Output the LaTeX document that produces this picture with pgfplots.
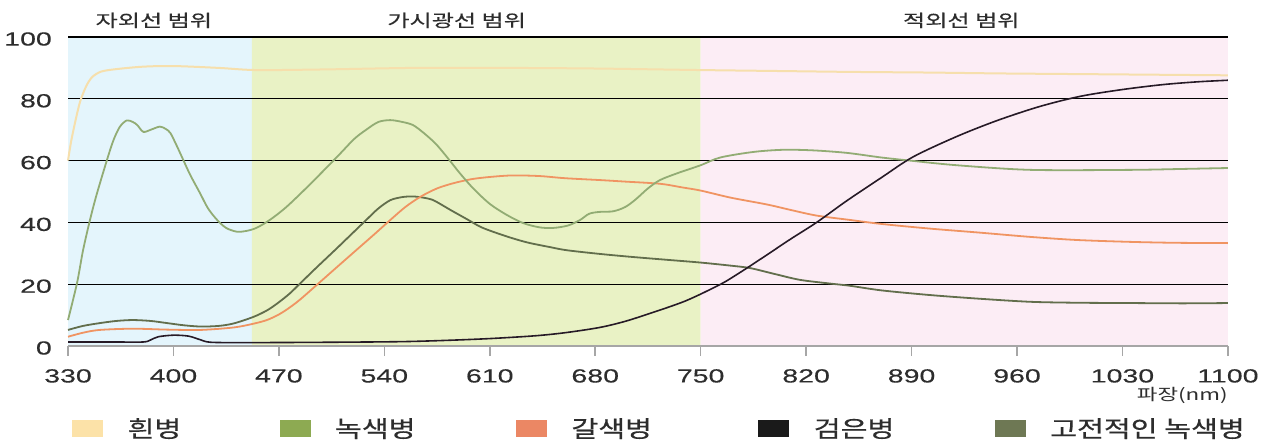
\documentclass[border=0pt]{standalone}
\usepackage{pgfplots}
\pgfplotsset{compat=1.18}
\usepackage{fontspec}
\setmainfont{Liberation Sans}
\newfontfamily\numfont[FakeStretch=1.5,FakeBold=0.3]{Liberation Sans}
\newfontfamily\krfont[FakeStretch=1.27,FakeBold=0.4]{Noto Sans CJK KR}
\newfontfamily\krtitle[FakeStretch=1.42,FakeBold=0.3]{Noto Sans CJK KR}
\newfontfamily\krunit[FakeStretch=1.4]{Noto Sans CJK KR}

% region backgrounds
\definecolor{uvbg}{RGB}{228,245,252}
\definecolor{visbg}{RGB}{233,242,197}
\definecolor{irbg}{RGB}{252,237,245}
% curve colours
\definecolor{cwhite}{RGB}{246,223,172}
\definecolor{cgreen}{RGB}{146,172,116}
\definecolor{cbrown}{RGB}{240,148,98}
\definecolor{cblack}{RGB}{38,26,38}
\definecolor{cclassic}{RGB}{98,110,76}
% legend swatches
\definecolor{lwhite}{RGB}{252,226,168}
\definecolor{lgreen}{RGB}{141,170,82}
\definecolor{lbrown}{RGB}{235,135,100}
\definecolor{lblack}{RGB}{26,26,26}
\definecolor{lclassic}{RGB}{110,120,84}
\definecolor{txt}{RGB}{45,45,45}

\pgfplotsset{sqleg/.style={legend image code/.code={\fill[#1] (0bp,-8bp) rectangle (30bp,8bp);}}}

\begin{document}
\begin{tikzpicture}
\begin{axis}[
  at={(68bp,98bp)}, anchor=south west,
  scale only axis, width=1160bp, height=309bp,
  xmin=330, xmax=1100, ymin=0, ymax=100,
  set layers, clip=false,
  xtick={330,400,...,1100}, ytick={0,20,...,100},
  ymajorgrids, grid style={black, line width=1.1bp},
  axis x line*=bottom, axis y line*=left,
  axis line style={-},
  x axis line style={draw=gray!70, line width=2bp},
  y axis line style={draw=none},
  tick align=outside, major tick length=10bp,
  xtick style={draw=gray!70, line width=1.5bp},
  ytick style={draw=none},
  /pgf/number format/assume math mode=true,
  /pgf/number format/set thousands separator={},
  ticklabel style={font=\numfont\fontsize{19bp}{19bp}\selectfont, text=txt, inner sep=0pt},
  xticklabel style={yshift=-13bp},
  yticklabel style={xshift=-6bp, yshift=-2bp},
  legend columns=5,
  legend style={draw=none, fill=none, at={(axis description cs:0,0)}, anchor=north west,
    xshift=4bp, yshift=-72bp, inner sep=0pt, row sep=0pt, column sep=0pt,
    font=\krfont\fontsize{23bp}{23bp}\selectfont, text=txt,
    /tikz/every odd column/.append style={column sep=25bp},
    nodes={inner sep=0pt}},
  legend cell align=left,
]
% spectral ranges
\addplot[draw=none, fill=uvbg, on layer=axis background, forget plot]
  coordinates {(330,0) (330,100) (452,100) (452,0)} \closedcycle;
\addplot[draw=none, fill=visbg, on layer=axis background, forget plot]
  coordinates {(452,0) (452,100) (750,100) (750,0)} \closedcycle;
\addplot[draw=none, fill=irbg, on layer=axis background, forget plot]
  coordinates {(750,0) (750,100) (1100,100) (1100,0)} \closedcycle;

% white bottle
\addplot[cwhite, line width=2bp, smooth, forget plot] coordinates {
 (330,60) (332,66) (335,73) (338,79) (342,84) (346,87) (352,88.8) (362,89.6)
 (380,90.4) (400,90.6) (430,90) (455,89.3) (500,89.5) (560,90) (620,90)
 (680,89.8) (750,89.3) (800,89) (850,88.7) (900,88.5) (950,88.2) (1000,88)
 (1050,87.8) (1100,87.6)};
% classic green bottle
\addplot[cclassic, line width=1.8bp, smooth, forget plot] coordinates {
 (330,5.2) (340,6.5) (351,7.4) (362,8.1) (373,8.4) (385,8.1) (396,7.4) (407,6.7)
 (418,6.3) (430,6.5) (440,7.3) (453,9.4) (462,11.5) (469,13.8) (477,16.9)
 (484,20.2) (495,25.4) (508,31.4) (518,36.1) (528,40.8) (536,44.5) (544,47.2)
 (552,48.2) (559,48.4) (566,48) (572,47.3) (577,46) (584,44) (595,41) (605,38.3)
 (621,35.5) (635,33.5) (650,32) (661,31) (683,29.8) (705,28.8) (730,27.8)
 (750,27) (770,26) (783,25.2) (800,23.2) (816,21.4) (836,20.2) (849,19.5)
 (870,18) (902,16.5) (935,15.3) (969,14.3) (1000,14) (1035,13.9) (1070,13.8)
 (1100,13.9)};
% brown bottle
\addplot[cbrown, line width=1.8bp, smooth, forget plot] coordinates {
 (330,3) (340,4.3) (351,5.2) (373,5.6) (396,5.3) (418,5.2) (440,6) (453,7.2)
 (462,8.4) (470,10.2) (477,12.4) (484,15) (495,19.7) (508,25.3) (522,31.3)
 (533,36) (544,40.8) (554,45) (564,48.3) (575,51) (586,52.7) (598,54)
 (610,54.7) (625,55.2) (643,55) (660,54.3) (683,53.7) (700,53.2) (723,52.5)
 (738,51.3) (750,50.3) (770,48) (794,45.8) (810,44) (827,42.2) (849,40.8)
 (870,39.5) (902,38) (935,36.7) (969,35.3) (1000,34.3) (1035,33.7) (1065,33.4)
 (1100,33.3)};
% green bottle
\addplot[cgreen, line width=1.8bp, smooth, forget plot] coordinates {
 (330,8.4) (336,20.4) (340,31) (344.6,40.8) (349,49) (356.5,61.2) (360.5,67)
 (364.5,71) (369,73) (373,72.5) (376,71.5) (380,69.3) (385,70) (391,71)
 (395,70.2) (398,68.9) (402,65) (405.6,61.2) (411,55.5) (417.6,49.5) (423,44.5)
 (429,40.8) (435,38.2) (442,37) (448,37.2) (455,38.2) (464,40.8) (475,45)
 (490,52) (508.6,61.2) (520,67) (528,70) (536,72.5) (544,73.1) (552,72.5)
 (559,71.5) (566,69) (574,65.5) (581.5,61.2) (590,56) (599,51) (610,46)
 (621,42.5) (632,39.8) (643,38.4) (652,38.2) (662,39) (670,40.8) (676,42.8)
 (683,43.4) (692,43.6) (700,45) (707,47.5) (715,51) (723,53.7) (735,56)
 (750,58.5) (763,61) (785,62.8) (805,63.5) (825,63.3) (847,62.5) (870,61)
 (889,60) (920,58.5) (969,57) (1035,57) (1070,57.3) (1100,57.6)};
% black bottle
\addplot[cblack, line width=1.6bp, smooth, forget plot] coordinates {
 (330,1.3) (360,1.3) (380,1.3) (385,2) (390,3) (400,3.5) (410,3.2) (418,2)
 (425,1.2) (450,1.1) (500,1.2) (550,1.4) (580,1.8) (610,2.4) (640,3.3) (660,4.3)
 (683,6) (700,8) (716,10.5) (730,12.8) (740,14.6) (750,16.8) (760,19.2) (767,21)
 (780,25) (794,29.5) (810,34.7) (827,40) (847,47) (870,54.5) (891,61.2)
 (920,67.8) (947,73) (975,77.5) (1002,80.8) (1030,83) (1057,84.6) (1080,85.5)
 (1100,86)};

% legend swatches
\addlegendimage{sqleg=lwhite}
\addlegendentry{\makebox[152bp][l]{흰병}}
\addlegendimage{sqleg=lgreen}
\addlegendentry{\makebox[181bp][l]{녹색병}}
\addlegendimage{sqleg=lbrown}
\addlegendentry{\makebox[187bp][l]{갈색병}}
\addlegendimage{sqleg=lblack}
\addlegendentry{\makebox[181bp][l]{검은병}}
\addlegendimage{sqleg=lclassic}
\addlegendentry{고전적인 녹색병}

% range titles and unit
\node[anchor=base, font=\krtitle\fontsize{17bp}{17bp}\selectfont, text=txt]
  at (axis cs:387,103.3) {자외선 범위};
\node[anchor=base, font=\krtitle\fontsize{17bp}{17bp}\selectfont, text=txt]
  at (axis cs:588,103.3) {가시광선 범위};
\node[anchor=base, font=\krtitle\fontsize{17bp}{17bp}\selectfont, text=txt]
  at (axis cs:923,103.3) {적외선 범위};
\node[anchor=base east, inner sep=0pt, font=\krunit\fontsize{16bp}{16bp}\selectfont, text=txt]
  at (axis cs:1100,-17.5) {파장(nm)};
\end{axis}
\pgfresetboundingbox
\path[use as bounding box] (0,0) rectangle (1278bp,444bp);
\end{tikzpicture}
\end{document}
